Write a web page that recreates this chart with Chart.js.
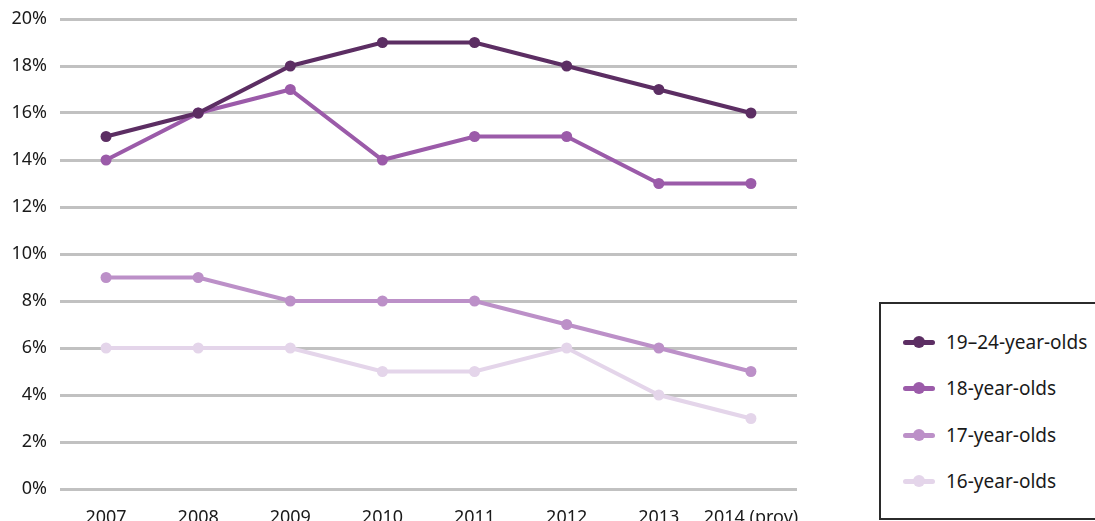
<!DOCTYPE html>
<html>
<head>
<meta charset="utf-8">
<script src="https://cdn.jsdelivr.net/npm/chart.js@4"></script>
<style>
  html, body { margin: 0; padding: 0; background: #fff; }
  #page { width: 1095px; height: 521px; position: relative; overflow: hidden; font-family: "Noto Sans", sans-serif; }
  #wrap { position: absolute; left: 0; top: 0; width: 830px; height: 521px; }
  #legend {
    position: absolute; left: 879px; top: 302px; width: 260px; height: 218px;
    border-top: 2px solid #2b2b2b; border-left: 2px solid #2b2b2b; border-bottom: 2px solid #2b2b2b;
    box-sizing: border-box;
  }
  .item { position: absolute; left: 22px; height: 26px; display: flex; align-items: center; }
  .swatch { position: relative; width: 32px; height: 26px; margin-right: 11px; }
  .swatch .ln { position: absolute; left: 0; top: 10.5px; width: 32px; height: 5px; border-radius: 3px; }
  .swatch .dt { position: absolute; left: 10px; top: 7px; width: 12px; height: 12px; border-radius: 50%; }
  .label { font-size: 19px; color: #1a1a1a; white-space: nowrap; }
</style>
</head>
<body>
<div id="page">
  <div id="wrap"><canvas id="c"></canvas></div>
  <div id="legend"></div>
</div>
<script>
const years = ['2007', '2008', '2009', '2010', '2011', '2012', '2013', '2014 (prov)'];
const seriesNames = ['19\u201324-year-olds', '18-year-olds', '17-year-olds', '16-year-olds'];
const ages19to24 = [15, 16, 18, 19, 19, 18, 17, 16];
const age18 = [14, 16, 17, 14, 15, 15, 13, 13];
const age17 = [9, 9, 8, 8, 8, 7, 6, 5];
const age16 = [6, 6, 6, 5, 5, 6, 4, 3];
const yTicks = [0, 2, 4, 6, 8, 10, 12, 14, 16, 18, 20];

const colours = ['#5c2e63', '#9b5ba9', '#bc90c8', '#e4d5ea'];
const values = [ages19to24, age18, age17, age16];

const datasets = values.map((v, i) => ({
  label: seriesNames[i],
  data: v,
  borderColor: colours[i],
  backgroundColor: colours[i],
  borderWidth: 4,
  pointRadius: 5.5,
  pointHoverRadius: 5.5,
  pointBorderWidth: 0,
  tension: 0,
  order: i
}));

const tickFont = { family: '"Noto Sans", sans-serif', size: 18 };

new Chart(document.getElementById('c'), {
  type: 'line',
  data: { labels: years, datasets: datasets },
  options: {
    responsive: true,
    maintainAspectRatio: false,
    animation: false,
    layout: { padding: { top: 19, right: 33, left: 0, bottom: 0 } },
    plugins: { legend: { display: false }, tooltip: { enabled: false } },
    scales: {
      x: {
        offset: true,
        grid: { display: false },
        border: { display: false },
        ticks: { font: tickFont, color: '#1a1a1a', padding: 10, maxRotation: 0, autoSkip: false },
        afterFit(scale) { scale.height = 32; }
      },
      y: {
        min: 0, max: 20,
        afterBuildTicks(scale) { scale.ticks = yTicks.map(v => ({ value: v })); },
        grid: { color: '#c1c1c1', lineWidth: 3, drawTicks: false },
        border: { display: false },
        ticks: { font: tickFont, color: '#1a1a1a', padding: 13, callback: v => v + '%' },
        afterFit(scale) {
          scale.width = 60;
          scale.paddingTop = 0;
          scale.paddingBottom = 0;
        }
      }
    }
  }
});

// legend box on the right
const legend = document.getElementById('legend');
const rowTops = [25, 71, 118, 164];
seriesNames.forEach((name, i) => {
  const item = document.createElement('div');
  item.className = 'item';
  item.style.top = rowTops[i] + 'px';
  item.innerHTML = '<div class="swatch"><div class="ln" style="background:' + colours[i] +
    '"></div><div class="dt" style="background:' + colours[i] + '"></div></div>' +
    '<span class="label">' + name + '</span>';
  legend.appendChild(item);
});
</script>
</body>
</html>
